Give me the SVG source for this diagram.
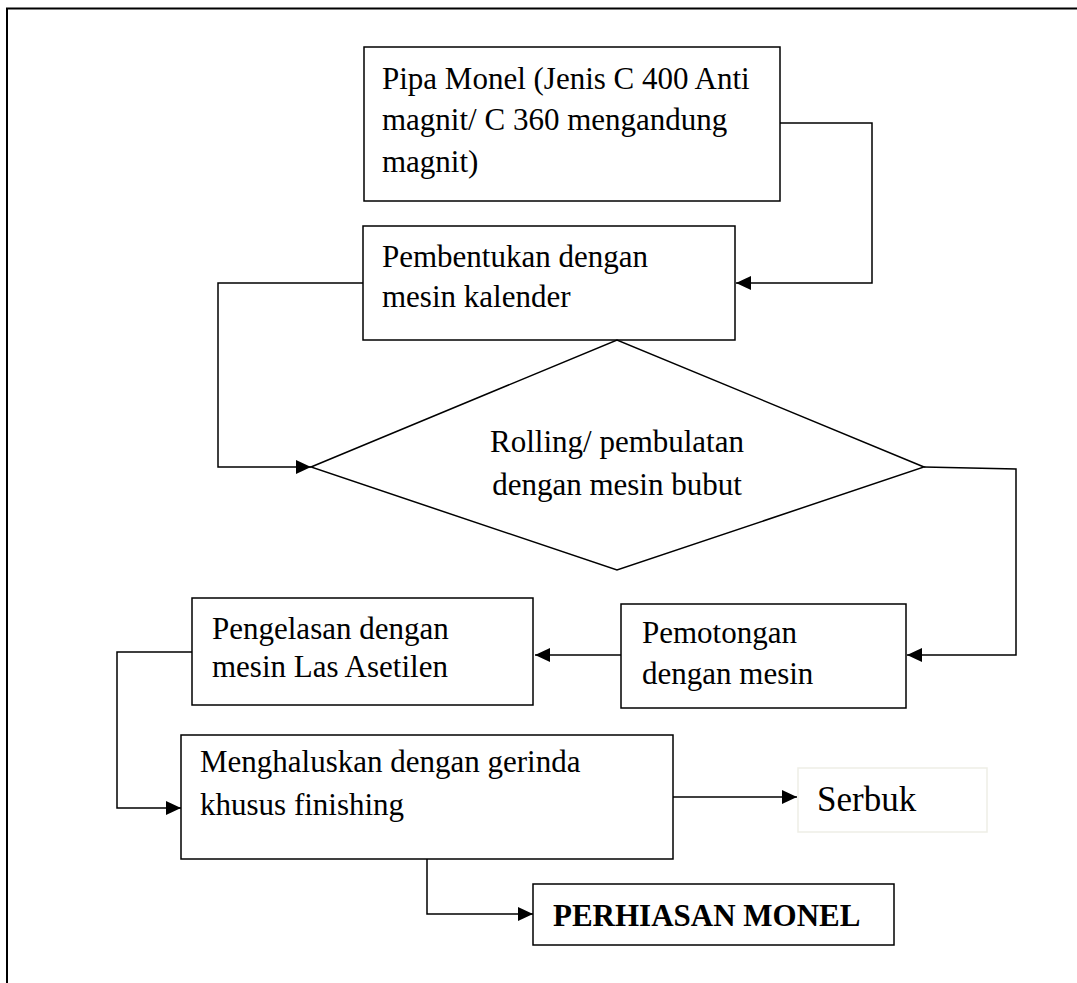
<svg xmlns="http://www.w3.org/2000/svg" width="1077" height="983" viewBox="0 0 1077 983">
<style>
.box{fill:#fff;stroke:#000;stroke-width:1.5}
.t{font-family:"Liberation Serif","Times New Roman",serif;font-size:31px;fill:#000}
.c{fill:none;stroke:#000;stroke-width:1.5}
</style>
<defs>
<marker id="ah" markerUnits="userSpaceOnUse" markerWidth="16" markerHeight="14" refX="15" refY="7" orient="auto">
<path d="M0,0 L15,7 L0,14 Z" fill="#000"/>
</marker>
</defs>
<rect width="1077" height="983" fill="#fff"/>
<rect x="7" y="8.5" width="1100" height="1000" fill="none" stroke="#000" stroke-width="2"/>

<g id="n1">
<rect class="box" x="364" y="47" width="416" height="154"/>
<text class="t" x="382" y="89">Pipa Monel (Jenis C 400 Anti</text>
<text class="t" x="382" y="130">magnit/ C 360 mengandung</text>
<text class="t" x="382" y="172">magnit)</text>
</g>
<g id="n2">
<rect class="box" x="363" y="226" width="372" height="114"/>
<text class="t" x="382" y="267">Pembentukan dengan</text>
<text class="t" x="382" y="307">mesin kalender</text>
</g>
<g id="n3">
<polygon class="box" points="311,467 617,340 924,467 617,570"/>
<text class="t" x="617" y="452" text-anchor="middle">Rolling/ pembulatan</text>
<text class="t" x="617" y="495" text-anchor="middle">dengan mesin bubut</text>
</g>
<g id="n4">
<rect class="box" x="621" y="604" width="285" height="104"/>
<text class="t" x="642" y="643">Pemotongan</text>
<text class="t" x="642" y="684">dengan mesin</text>
</g>
<g id="n5">
<rect class="box" x="192" y="598" width="341" height="107"/>
<text class="t" x="212" y="639">Pengelasan dengan</text>
<text class="t" x="212" y="677">mesin Las Asetilen</text>
</g>
<g id="n6">
<rect class="box" x="181" y="735" width="492" height="124"/>
<text class="t" x="200" y="772">Menghaluskan dengan gerinda</text>
<text class="t" x="200" y="815">khusus finishing</text>
</g>
<g id="n7">
<rect x="798" y="768" width="189" height="64" fill="#fff" stroke="#eeeee6" stroke-width="1.5"/>
<text class="t" x="817" y="811" style="font-size:35px">Serbuk</text>
</g>
<g id="n8">
<rect class="box" x="533" y="884" width="361" height="61"/>
<text class="t" x="553" y="926" font-weight="bold">PERHIASAN MONEL</text>
</g>

<g id="connectors">
<polyline class="c" points="780,123 872,123 872,283 736,283" marker-end="url(#ah)"/>
<polyline class="c" points="363,283 218,283 218,467 311,467" marker-end="url(#ah)"/>
<polyline class="c" points="924,467 1016,469 1016,655 907,655" marker-end="url(#ah)"/>
<line class="c" x1="621" y1="655" x2="535" y2="655" marker-end="url(#ah)"/>
<polyline class="c" points="192,652 117,652 117,808 181,808" marker-end="url(#ah)"/>
<line class="c" x1="673" y1="797" x2="797" y2="797" marker-end="url(#ah)"/>
<polyline class="c" points="427,859 427,914 533,914" marker-end="url(#ah)"/>
</g>
</svg>
